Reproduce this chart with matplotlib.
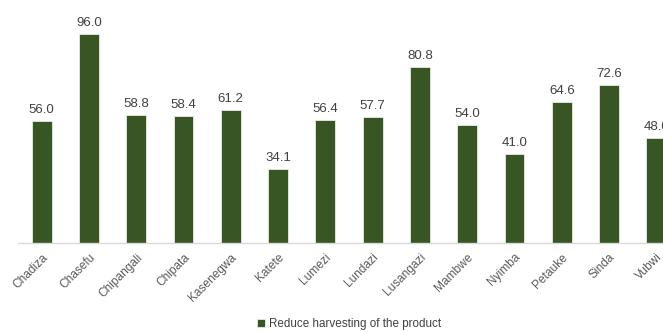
import numpy as np
import matplotlib.pyplot as plt

plt.rcParams['font.family'] = ['Liberation Sans', 'DejaVu Sans']

# districts and share reporting the measure (%)
districts = ['Chadiza', 'Chasefu', 'Chipangali', 'Chipata', 'Kasenegwa', 'Katete',
             'Lumezi', 'Lundazi', 'Lusangazi', 'Mambwe', 'Nyimba', 'Petauke',
             'Sinda', 'Vubwi']
values = [56.0, 96.0, 58.8, 58.4, 61.2, 34.1, 56.4, 57.7, 80.8, 54.0, 41.0, 64.6, 72.6, 48.0]
series_name = 'Reduce harvesting of the product'

bar_color = '#375623'

fig = plt.figure(figsize=(6.63, 3.32), dpi=100)
# axes runs past the right edge, like the cropped original
ax = fig.add_axes([18/663, 89/332, 662/663, 218/332])

x = np.arange(len(districts))
bars = ax.bar(x, values, width=0.42, color=bar_color, edgecolor='#e8ece4',
              linewidth=0.6, label=series_name)

for xi, v in zip(x, values):
    ax.text(xi, v + 2.3, f'{v:.1f}', ha='center', va='bottom',
            fontsize=9.5, color='#404040', clip_on=False)

ax.set_xlim(-0.5, len(districts) - 0.5)
ax.set_ylim(0, 100)
ax.set_yticks([])
ax.set_xticks(x)
ax.set_xticklabels(districts, rotation=45, ha='right', rotation_mode='anchor',
                   fontsize=8.6, color='#595959')
ax.tick_params(axis='x', length=0, pad=6)

for s in ['top', 'right', 'left']:
    ax.spines[s].set_visible(False)
ax.spines['bottom'].set_color('#d9d9d9')
ax.spines['bottom'].set_linewidth(1)

fig.legend(handles=[bars], labels=[series_name], loc='center',
           bbox_to_anchor=(349/663, 8/332), frameon=False, fontsize=8.4,
           handlelength=0.7, handleheight=0.7, handletextpad=0.3,
           labelcolor='#404040')

fig.savefig('out.png', dpi=100)
